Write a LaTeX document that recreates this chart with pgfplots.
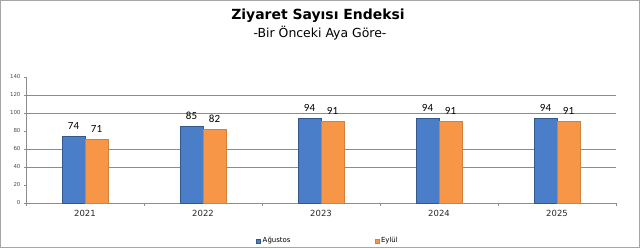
\documentclass[border=0pt]{standalone}
\usepackage{pgfplots}
\pgfplotsset{compat=1.18}
\usepackage{fontspec}
\setmainfont{DejaVu Sans}
\newfontfamily\carlito{Carlito}
\definecolor{barblue}{HTML}{4A7EC8}
\definecolor{barorange}{HTML}{F79646}
\definecolor{gridgray}{HTML}{8C8C8C}
\begin{document}
\begin{tikzpicture}[x=1bp,y=1bp]
\draw[gray!70, line width=1bp] (0.5,0.5) rectangle (639.5,247.5);
\node[font=\fontsize{14}{16}\selectfont\bfseries] at (318,232) {Ziyaret Sayısı Endeksi};
\node[font=\fontsize{12.5}{14}\selectfont] at (320,215) {-Bir Önceki Aya Göre-};
\begin{axis}[
  at={(26bp,45bp)}, anchor=south west,
  scale only axis, width=590bp, height=126bp,
  xmin=-0.5, xmax=4.5, ymin=0, ymax=140,
  ybar=0pt, bar width=23bp,
  xtick={0,1,2,3,4},
  xticklabels={2021,2022,2023,2024,2025},
  minor xtick={-0.5,0.5,1.5,2.5,3.5,4.5},
  major x tick style={draw=none},
  minor x tick style={gridgray},
  minor tick length=3bp,
  tick align=outside,
  ytick={0,20,...,140},
  major tick length=2bp,
  y tick style={gridgray},
  extra y ticks={40,60,100,120},
  extra y tick labels={},
  extra y tick style={grid=major, major tick length=0pt},
  major grid style={gridgray, line width=0.7bp},
  axis x line*=bottom, axis y line*=left,
  axis line style={gridgray},
  x tick label style={font=\fontsize{8.5}{10}\selectfont, gray!30!black, yshift=-2bp},
  y tick label style={font=\fontsize{5.5}{7}\selectfont, gray!60!black},
  /pgf/number format/assume math mode=true,
  nodes near coords,
  every node near coord/.append style={font=\carlito\fontsize{11}{12}\selectfont, yshift=3bp},
  legend style={at={(0.385,-0.30)}, anchor=west, draw=none, fill=none,
    font=\fontsize{7}{8}\selectfont, legend columns=2,
    /tikz/every even column/.append style={column sep=82bp}},
  legend image code/.code={\fill[#1] (0bp,-2bp) rectangle (4bp,2bp);},
]
\addplot[fill=barblue, draw=barblue!70!black] coordinates {(0,74) (1,85) (2,94) (3,94) (4,94)};
\addplot[fill=barorange, draw=barorange!85!black] coordinates {(0,71) (1,82) (2,91) (3,91) (4,91)};
\legend{Ağustos, Eylül}
\end{axis}
\end{tikzpicture}
\end{document}
